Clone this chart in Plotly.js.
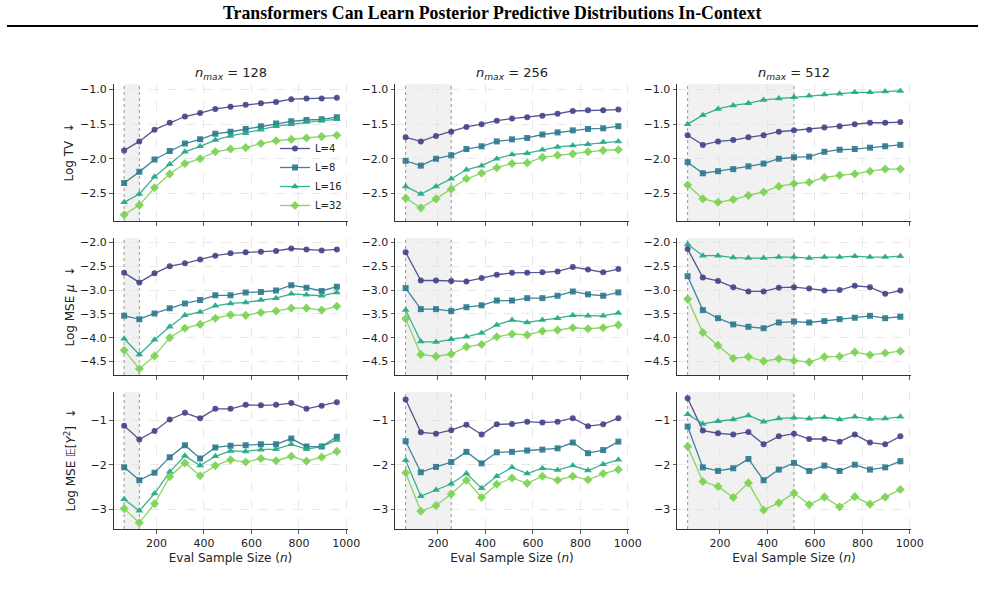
<!DOCTYPE html>
<html><head><meta charset="utf-8">
<script src="https://cdn.plot.ly/plotly-3.0.1.min.js"></script>
<style>html,body{margin:0;padding:0;background:#fff}#chart{width:985px;height:589px}</style>
</head><body><div id="chart"></div>
<script>
// ---------- data ----------
const evalSizes = [64,128,192,256,320,384,448,512,576,640,704,768,832,896,960];
const seriesNames = ['L=4','L=8','L=16','L=32'];
const nMaxValues = [128,256,512];
const xTickVals = [200,400,600,800,1000];
const yTicksTV = [-1.0,-1.5,-2.0,-2.5];
const yTicksMu = [-2.0,-2.5,-3.0,-3.5,-4.0,-4.5];
const yTicksY2 = [-1,-2,-3];
const rowTitles = ['Log TV  \u2193', 'Log MSE <i>\u03bc</i>  \u2193', 'Log MSE \ud835\udd3c[<i>Y</i><sup>2</sup>]  \u2193'];

// Log TV
const logTV_128 = [
  [-1.88,-1.75,-1.58,-1.48,-1.39,-1.34,-1.28,-1.25,-1.22,-1.20,-1.18,-1.14,-1.13,-1.13,-1.12],
  [-2.35,-2.19,-2.01,-1.89,-1.78,-1.72,-1.64,-1.61,-1.57,-1.53,-1.49,-1.46,-1.44,-1.43,-1.40],
  [-2.63,-2.51,-2.26,-2.08,-1.90,-1.82,-1.73,-1.67,-1.63,-1.58,-1.53,-1.50,-1.47,-1.45,-1.43],
  [-2.81,-2.67,-2.42,-2.22,-2.07,-2.00,-1.90,-1.86,-1.84,-1.78,-1.74,-1.72,-1.70,-1.68,-1.66]
];
const logTV_256 = [
  [-1.69,-1.75,-1.67,-1.61,-1.54,-1.50,-1.45,-1.42,-1.40,-1.38,-1.35,-1.31,-1.30,-1.30,-1.29],
  [-2.03,-2.10,-2.00,-1.95,-1.86,-1.82,-1.75,-1.72,-1.70,-1.65,-1.62,-1.59,-1.57,-1.56,-1.53],
  [-2.40,-2.51,-2.40,-2.29,-2.16,-2.10,-2.00,-1.94,-1.92,-1.87,-1.83,-1.81,-1.79,-1.76,-1.75],
  [-2.57,-2.71,-2.58,-2.44,-2.29,-2.21,-2.13,-2.07,-2.06,-1.98,-1.95,-1.93,-1.90,-1.88,-1.87]
];
const logTV_512 = [
  [-1.66,-1.80,-1.75,-1.73,-1.69,-1.66,-1.61,-1.59,-1.58,-1.55,-1.53,-1.50,-1.48,-1.48,-1.47],
  [-2.05,-2.21,-2.18,-2.15,-2.11,-2.07,-2.00,-1.98,-1.97,-1.90,-1.87,-1.86,-1.84,-1.82,-1.80],
  [-1.50,-1.37,-1.28,-1.23,-1.20,-1.15,-1.13,-1.11,-1.09,-1.07,-1.06,-1.04,-1.04,-1.03,-1.02],
  [-2.38,-2.58,-2.63,-2.59,-2.53,-2.48,-2.40,-2.36,-2.34,-2.27,-2.24,-2.22,-2.18,-2.15,-2.15]
];
// Log MSE mu
const logMu_128 = [
  [-2.64,-2.84,-2.65,-2.50,-2.44,-2.36,-2.28,-2.23,-2.21,-2.20,-2.18,-2.13,-2.15,-2.17,-2.15],
  [-3.54,-3.61,-3.49,-3.38,-3.28,-3.21,-3.11,-3.11,-3.05,-3.04,-3.01,-2.90,-2.95,-3.02,-2.93],
  [-4.02,-4.35,-4.04,-3.77,-3.53,-3.46,-3.33,-3.28,-3.26,-3.21,-3.17,-3.08,-3.10,-3.12,-3.05],
  [-4.26,-4.65,-4.38,-4.00,-3.80,-3.72,-3.59,-3.52,-3.53,-3.47,-3.44,-3.38,-3.38,-3.42,-3.34]
];
const logMu_256 = [
  [-2.21,-2.80,-2.80,-2.81,-2.82,-2.75,-2.68,-2.64,-2.64,-2.63,-2.61,-2.52,-2.57,-2.63,-2.56],
  [-2.96,-3.40,-3.40,-3.44,-3.36,-3.32,-3.22,-3.22,-3.17,-3.17,-3.12,-3.03,-3.09,-3.12,-3.05],
  [-3.42,-4.08,-4.09,-4.03,-3.98,-3.90,-3.73,-3.63,-3.68,-3.63,-3.59,-3.53,-3.54,-3.54,-3.48],
  [-3.60,-4.35,-4.39,-4.34,-4.19,-4.14,-3.98,-3.92,-3.94,-3.86,-3.84,-3.79,-3.81,-3.79,-3.73]
];
const logMu_512 = [
  [-2.14,-2.74,-2.81,-2.94,-3.03,-3.03,-2.95,-2.94,-2.97,-3.01,-3.00,-2.91,-2.94,-3.08,-3.01],
  [-2.71,-3.42,-3.59,-3.72,-3.77,-3.80,-3.68,-3.66,-3.68,-3.65,-3.61,-3.58,-3.54,-3.59,-3.56],
  [-2.04,-2.28,-2.28,-2.32,-2.33,-2.33,-2.31,-2.31,-2.33,-2.31,-2.31,-2.29,-2.31,-2.31,-2.29],
  [-3.19,-3.89,-4.16,-4.43,-4.40,-4.49,-4.44,-4.48,-4.51,-4.40,-4.39,-4.30,-4.36,-4.32,-4.28]
];
// Log MSE E[Y^2]
const logY2_128 = [
  [-1.12,-1.43,-1.24,-0.98,-0.83,-0.95,-0.74,-0.74,-0.65,-0.66,-0.65,-0.61,-0.74,-0.67,-0.59],
  [-2.06,-2.35,-2.18,-1.83,-1.56,-1.86,-1.61,-1.57,-1.56,-1.54,-1.54,-1.41,-1.59,-1.59,-1.37],
  [-2.78,-3.04,-2.65,-2.16,-1.80,-2.02,-1.81,-1.69,-1.70,-1.66,-1.65,-1.54,-1.65,-1.59,-1.44],
  [-2.99,-3.31,-2.88,-2.27,-1.96,-2.25,-2.02,-1.89,-1.94,-1.86,-1.91,-1.81,-1.92,-1.83,-1.70]
];
const logY2_256 = [
  [-0.53,-1.27,-1.30,-1.22,-1.10,-1.32,-1.09,-1.08,-1.03,-1.05,-1.03,-0.95,-1.13,-1.09,-0.95],
  [-1.47,-2.17,-2.05,-1.94,-1.71,-1.97,-1.72,-1.71,-1.68,-1.66,-1.63,-1.50,-1.74,-1.67,-1.48],
  [-1.90,-2.71,-2.57,-2.43,-2.20,-2.53,-2.26,-2.06,-2.20,-2.08,-2.12,-2.02,-2.13,-1.99,-1.89],
  [-2.18,-3.05,-2.92,-2.66,-2.35,-2.74,-2.44,-2.30,-2.42,-2.26,-2.35,-2.26,-2.34,-2.20,-2.11]
];
const logY2_512 = [
  [-0.50,-1.23,-1.29,-1.32,-1.26,-1.54,-1.36,-1.30,-1.42,-1.42,-1.48,-1.32,-1.50,-1.54,-1.36],
  [-1.14,-2.06,-2.14,-2.08,-1.87,-2.35,-2.11,-1.96,-2.14,-2.02,-2.14,-2.00,-2.11,-2.06,-1.92],
  [-0.86,-1.08,-1.02,-0.98,-0.89,-1.03,-0.96,-0.94,-0.96,-0.93,-0.98,-0.92,-0.97,-0.96,-0.92],
  [-1.59,-2.38,-2.49,-2.74,-2.41,-3.02,-2.86,-2.64,-2.90,-2.73,-2.95,-2.72,-2.89,-2.73,-2.56]
];

const panels = [
  [logTV_128, logTV_256, logTV_512],
  [logMu_128, logMu_256, logMu_512],
  [logY2_128, logY2_256, logY2_512]
];
const rowTicks = [yTicksTV, yTicksMu, yTicksY2];
const rowTickFormat = ['.1f', '.1f', 'd'];

// ---------- style ----------
const colors = ['rgba(65,68,135,0.9)','rgba(42,120,142,0.9)','rgba(34,168,132,0.9)','rgba(122,209,81,0.9)'];
const symbols = ['circle','square','triangle-up','diamond'];
const msizes = [6,6,7,7];
const W = 985, H = 589;
const colPx = [[113.5,347.5],[395,629],[677,911]];
const rowPx = [[84,221],[238,375],[392,529]];
const FONT = 'DejaVu Sans, sans-serif';

const traces = [];
const layout = {
  width: W, height: H,
  margin: {l:0, r:0, t:0, b:0},
  paper_bgcolor: '#fff', plot_bgcolor: 'rgba(0,0,0,0)',
  font: {family: FONT, size: 11, color: '#222'},
  showlegend: true,
  legend: {
    x: 347/W, xanchor: 'right', y: 1 - 220/H, yanchor: 'bottom',
    bgcolor: 'rgba(255,255,255,0)', borderwidth: 0,
    font: {family: FONT, size: 10, color: '#222'},
    itemwidth: 30, tracegroupgap: 0
  },
  shapes: [], annotations: []
};

for (let r = 0; r < 3; r++) {
  for (let c = 0; c < 3; c++) {
    const k = r*3 + c + 1;
    const xs = k === 1 ? 'x' : 'x' + k;
    const ys = k === 1 ? 'y' : 'y' + k;
    const data = panels[r][c];
    for (let s = 0; s < 4; s++) {
      traces.push({
        type: 'scatter', mode: 'lines+markers',
        x: evalSizes, y: data[s], xaxis: xs, yaxis: ys,
        name: seriesNames[s], showlegend: k === 1,
        line: {color: colors[s], width: 1.3},
        marker: {color: colors[s], symbol: symbols[s], size: msizes[s], line: {width: 0}}
      });
    }
    const axX = {
      domain: [colPx[c][0]/W, colPx[c][1]/W],
      range: [19.2, 1004.8], anchor: ys,
      tickvals: xTickVals, showticklabels: r === 2,
      ticks: 'outside', ticklen: 3.5, tickwidth: 0.8, tickcolor: '#333',
      showline: true, linecolor: '#333', linewidth: 1, mirror: false,
      showgrid: true, gridcolor: '#e2e2e2', griddash: 'dash', gridwidth: 0.8,
      zeroline: false, tickfont: {family: FONT, size: 11, color: '#222'}
    };
    if (r === 2) axX.title = {text: 'Eval Sample Size (<i>n</i>)', font: {family: FONT, size: 12, color: '#222'}, standoff: 4};
    const axY = {
      domain: [1 - rowPx[r][1]/H, 1 - rowPx[r][0]/H],
      anchor: xs,
      tickvals: rowTicks[r], tickformat: rowTickFormat[r],
      ticks: 'outside', ticklen: 3.5, tickwidth: 0.8, tickcolor: '#333',
      showline: true, linecolor: '#333', linewidth: 1, mirror: false,
      showgrid: true, gridcolor: '#e2e2e2', griddash: 'dash', gridwidth: 0.8,
      zeroline: false, tickfont: {family: FONT, size: 11, color: '#222'}
    };
    axY.range = [[-2.90,-0.92],[-4.78,-1.91],[-3.45,-0.36]][r];
    layout['xaxis' + (k === 1 ? '' : k)] = axX;
    layout['yaxis' + (k === 1 ? '' : k)] = axY;

    // in-context training region shading
    layout.shapes.push({
      type: 'rect', xref: xs, yref: ys + ' domain', x0: evalSizes[0], x1: nMaxValues[c], y0: 0, y1: 1,
      fillcolor: 'rgba(128,128,128,0.11)', line: {width: 0}, layer: 'below'
    });
    [evalSizes[0], nMaxValues[c]].forEach(xv => {
      layout.shapes.push({
        type: 'line', xref: xs, yref: ys + ' domain', x0: xv, x1: xv, y0: 0, y1: 1,
        line: {color: 'rgba(110,110,110,0.7)', width: 1, dash: 'dot'}, layer: 'below'
      });
    });

    if (r === 0) {
      layout.annotations.push({
        xref: 'paper', yref: 'paper', x: (colPx[c][0]+colPx[c][1])/2/W, y: 1 - 74/H,
        text: '<i>n</i><sub><i>max</i></sub> = ' + nMaxValues[c], showarrow: false,
        font: {family: FONT, size: 13, color: '#222'}, xanchor: 'center', yanchor: 'middle'
      });
    }
  }
  layout.annotations.push({
    xref: 'paper', yref: 'paper', x: 69/W, y: 1 - (rowPx[r][0]+rowPx[r][1])/2/H,
    text: rowTitles[r], textangle: -90, showarrow: false,
    font: {family: FONT, size: 12, color: '#222'}, xanchor: 'center', yanchor: 'middle'
  });
}

// page header
layout.annotations.push({
  xref: 'paper', yref: 'paper', x: 492/W, y: 1 - 13/H,
  text: '<b>Transformers Can Learn Posterior Predictive Distributions In-Context</b>',
  showarrow: false, font: {family: 'Liberation Serif, Times New Roman, serif', size: 17.8, color: '#000'},
  xanchor: 'center', yanchor: 'middle'
});
layout.shapes.push({
  type: 'line', xref: 'paper', yref: 'paper', x0: 7/W, x1: 978/W, y0: 1 - 26/H, y1: 1 - 26/H,
  line: {color: '#000', width: 2}
});

Plotly.newPlot('chart', traces, layout, {staticPlot: true, displayModeBar: false});
</script>
</body></html>
